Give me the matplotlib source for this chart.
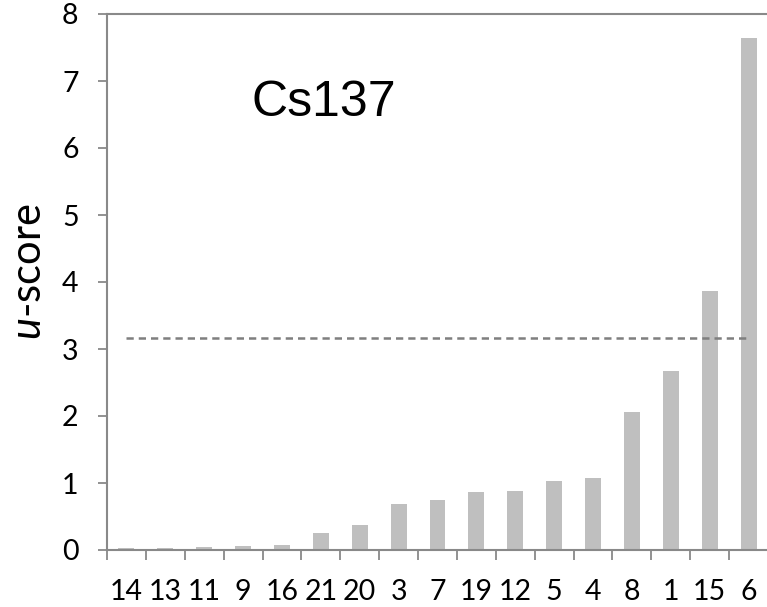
import matplotlib
matplotlib.use("Agg")
import matplotlib.pyplot as plt
import numpy as np

categories = ["14", "13", "11", "9", "16", "21", "20", "3", "7", "19", "12", "5", "4", "8", "1", "15", "6"]
u_scores = [0.03, 0.03, 0.05, 0.065, 0.07, 0.25, 0.38, 0.69, 0.74, 0.86, 0.885, 1.03, 1.07, 2.055, 2.675, 3.87, 7.64]
threshold = 3.17
yticks = [0, 1, 2, 3, 4, 5, 6, 7, 8]

plt.rcParams["mathtext.fontset"] = "custom"
plt.rcParams["mathtext.it"] = "Lato:italic"
plt.rcParams["mathtext.rm"] = "Lato"

fig = plt.figure(figsize=(7.67, 6.07), dpi=100)
ax = fig.add_axes([107/767, 1 - 550/607, 661/767, (550 - 14)/607])

x = np.arange(len(categories))
ax.bar(x, u_scores, width=0.41, color="#BFBFBF", zorder=2)
ln, = ax.plot([x[0], x[-1]], [threshold, threshold], color="#7F7F7F", lw=1.8, zorder=3)
ln.set_dashes((2.9, 2.0))

ax.set_xlim(-0.5, len(categories) - 0.5)
ax.set_ylim(0, 8)

spine_c = "#898989"
for s in ["left", "bottom", "top"]:
    ax.spines[s].set_color(spine_c)
    ax.spines[s].set_linewidth(1.5)
ax.spines["right"].set_visible(False)

ax.set_yticks(yticks)
ax.set_yticklabels([str(v) for v in yticks], fontsize=20.5, family="Lato")
ax.tick_params(axis="y", direction="out", length=6.5, width=1.3, color=spine_c, pad=14)

ax.set_xticks(x)
ax.set_xticklabels(categories, fontsize=20.5, family="Lato")
ax.tick_params(axis="x", which="major", length=0, pad=21)
ax.set_xticks(np.arange(-0.5, len(categories)), minor=True)
ax.tick_params(axis="x", which="minor", direction="out", length=7, width=1.3, color=spine_c)

ax.set_ylabel(r"$\mathit{u}$-score", fontsize=30, family="Lato")
ax.yaxis.set_label_coords(-0.09, 0.52)

ax.text(252/767, 1 - 103/607, "Cs137", transform=fig.transFigure, fontsize=36,
        family="Liberation Sans", va="center", ha="left")

fig.savefig("out.png", dpi=100)
